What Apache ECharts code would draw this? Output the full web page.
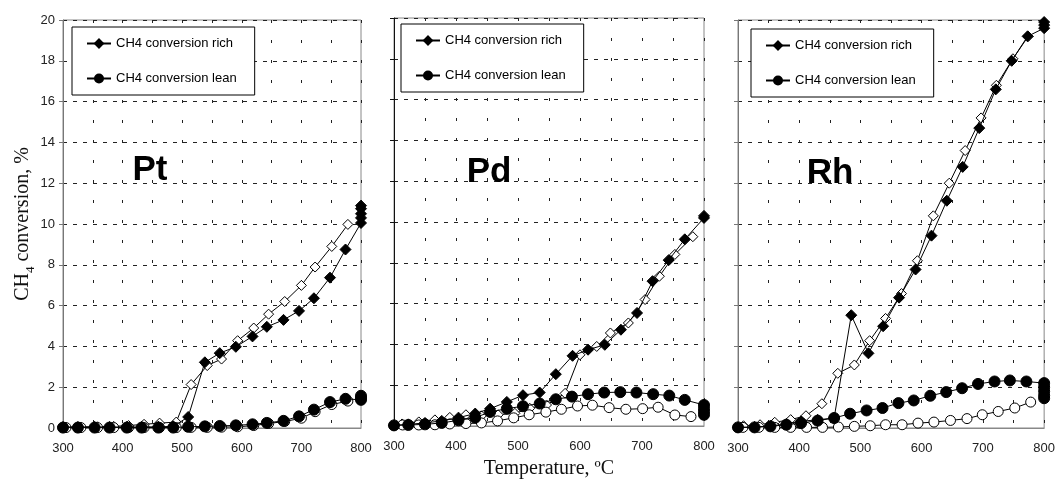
<!DOCTYPE html>
<html>
<head>
<meta charset="utf-8">
<script src="https://cdn.jsdelivr.net/npm/echarts@6/dist/echarts.min.js"></script>
<style>
html,body{margin:0;padding:0;background:#fff;}
#chart{width:1058px;height:490px;}
</style>
</head>
<body>
<div id="chart"></div>
<script>
// ---- data: [temperature °C, CH4 conversion %] ----
const panelNames = ['Pt', 'Pd', 'Rh'];
const xTicks = [300, 400, 500, 600, 700, 800];
const legendNames = ['CH4 conversion rich', 'CH4 conversion lean'];

// Pt
const ptRichHeat = [[300,0.05],[325,0.05],[353,0.05],[378,0.05],[407,0.05],[432,0.05],[460,0.06],[485,0.08],[510,0.54],[538,3.22],[563,3.67],[590,3.98],[618,4.49],[642,4.96],[670,5.3],[696,5.74],[721,6.36],[748,7.37],[774,8.75],[800,10.05],[800,10.3],[800,10.5],[800,10.75],[800,10.9]];
const ptRichCool = [[778,9.98],[751,8.9],[723,7.89],[700,6.99],[672,6.2],[645,5.58],[620,4.9],[593,4.28],[566,3.38],[542,3.06],[515,2.13],[490,0.29],[462,0.24],[436,0.18],[410,0.12],[385,0.08],[358,0.06],[330,0.05],[305,0.04]];
const ptLeanHeat = [[300,0.02],[325,0.02],[353,0.02],[378,0.02],[407,0.02],[432,0.02],[460,0.02],[485,0.02],[510,0.06],[538,0.08],[563,0.1],[590,0.13],[618,0.18],[642,0.25],[670,0.35],[696,0.57],[721,0.9],[748,1.27],[774,1.43],[800,1.38],[800,1.48],[800,1.58]];
const ptLeanCool = [[778,1.32],[751,1.15],[723,0.8],[700,0.48],[672,0.32],[645,0.22],[620,0.12],[593,0.06],[566,0.04],[542,0.03],[515,0.03],[490,0.02],[462,0.02],[436,0.02],[410,0.02],[385,0.02],[358,0.02],[330,0.02],[305,0.02]];

// Pd
const pdRichHeat = [[300,0.03],[323,0.08],[350,0.15],[377,0.25],[404,0.41],[431,0.61],[455,0.85],[482,1.18],[508,1.51],[535,1.64],[561,2.54],[588,3.44],[613,3.74],[640,3.98],[666,4.72],[692,5.54],[717,7.1],[743,8.13],[769,9.15],[800,10.2],[800,10.3]];
const pdRichCool = [[782,9.28],[753,8.41],[728,7.34],[705,6.2],[678,5.05],[649,4.56],[627,3.9],[600,3.49],[576,1.6],[546,1.03],[519,0.87],[495,0.62],[468,0.55],[441,0.5],[416,0.55],[390,0.42],[366,0.3],[340,0.2],[313,0.1]];
const pdLeanHeat = [[300,0.03],[323,0.05],[350,0.08],[377,0.15],[404,0.28],[431,0.41],[455,0.69],[482,0.85],[508,0.97],[535,1.1],[561,1.31],[587,1.44],[613,1.56],[639,1.64],[665,1.66],[691,1.64],[718,1.56],[744,1.49],[769,1.28],[800,1.03],[800,0.85],[800,0.7],[800,0.55]];
const pdLeanCool = [[779,0.46],[753,0.54],[726,0.92],[701,0.85],[674,0.82],[647,0.9],[620,1.02],[596,0.98],[570,0.82],[545,0.68],[518,0.55],[493,0.4],[467,0.25],[441,0.15],[416,0.12],[390,0.1],[366,0.06],[340,0.05],[314,0.05]];

// Rh
const rhRichHeat = [[300,0.03],[327,0.05],[353,0.1],[379,0.2],[403,0.33],[430,0.4],[457,0.49],[485,5.53],[513,3.66],[537,4.99],[563,6.39],[590,7.77],[616,9.43],[641,11.14],[667,12.8],[694,14.7],[721,16.6],[747,18.0],[773,19.2],[800,19.6],[800,19.75],[800,19.9]];
const rhRichCool = [[774,19.2],[749,18.1],[722,16.8],[697,15.2],[671,13.6],[645,12.0],[619,10.4],[593,8.2],[567,6.59],[541,5.37],[515,4.28],[490,3.09],[463,2.68],[437,1.19],[411,0.6],[386,0.41],[360,0.28],[336,0.16],[309,0.11]];
const rhLeanHeat = [[300,0.03],[327,0.03],[353,0.08],[379,0.16],[403,0.24],[430,0.36],[457,0.49],[483,0.7],[510,0.86],[536,0.98],[562,1.22],[587,1.35],[614,1.58],[640,1.76],[666,1.95],[692,2.16],[719,2.28],[744,2.33],[771,2.28],[800,2.2],[800,2.0],[800,1.8],[800,1.6],[800,1.46]];
const rhLeanCool = [[778,1.27],[752,0.98],[725,0.81],[699,0.65],[674,0.46],[647,0.37],[620,0.29],[594,0.24],[568,0.16],[541,0.16],[516,0.11],[490,0.08],[464,0.05],[438,0.03],[412,0.03],[386,0.03],[360,0.03],[334,0.03],[308,0.03]];

const panels = [
  {richHeat: ptRichHeat, richCool: ptRichCool, leanHeat: ptLeanHeat, leanCool: ptLeanCool},
  {richHeat: pdRichHeat, richCool: pdRichCool, leanHeat: pdLeanHeat, leanCool: pdLeanCool},
  {richHeat: rhRichHeat, richCool: rhRichCool, leanHeat: rhLeanHeat, leanCool: rhLeanCool}
];

// ---- layout ----
const grids = [
  {left: 63, top: 20, width: 298, height: 408},
  {left: 394, top: 18, width: 310, height: 408},
  {left: 738, top: 20, width: 308, height: 408}
];
const leftAxisColors = ['#777', '#111', '#777'];
const legendPos = [{left: 72, top: 27}, {left: 401, top: 24}, {left: 751, top: 29}];
const labelPos = [{x: 150, y: 170}, {x: 489, y: 172}, {x: 830, y: 173}];

const SANS = '"Liberation Sans", Arial, sans-serif';
const SERIF = '"Liberation Serif", "Times New Roman", serif';

const chart = echarts.init(document.getElementById('chart'), null, {renderer: 'canvas'});

const xAxes = [], yAxes = [], series = [], legends = [], graphics = [];
grids.forEach((g, i) => {
  g.show = true; g.borderColor = '#888'; g.borderWidth = 1; g.backgroundColor = 'transparent';
  xAxes.push({
    type: 'value', gridIndex: i, min: xTicks[0], max: xTicks[xTicks.length - 1], interval: 100,
    axisLine: {show: true, onZero: false, lineStyle: {color: '#888', width: 1}},
    axisTick: {show: false},
    minorTick: {show: false, splitNumber: 2},
    splitLine: {show: true, lineStyle: {color: '#222', width: 1, type: [3, 17]}},
    minorSplitLine: {show: true, lineStyle: {color: '#222', width: 1, type: [3, 17]}},
    axisLabel: {show: true, fontSize: 13, color: '#222', fontFamily: SANS, margin: 14},
    name: i === 1 ? 'Temperature, ºC' : '',
    nameLocation: 'middle', nameGap: 33,
    nameTextStyle: {fontFamily: SERIF, fontSize: 20, color: '#111'}
  });
  yAxes.push({
    type: 'value', gridIndex: i, min: 0, max: 20, interval: 2,
    axisLine: {show: true, lineStyle: {color: leftAxisColors[i], width: 1}},
    axisTick: {show: true, length: 4, inside: false, lineStyle: {color: leftAxisColors[i]}},
    splitLine: {show: true, lineStyle: {color: '#222', width: 1, type: [4, 6]}},
    axisLabel: {show: i === 0, fontSize: 13, color: '#222', fontFamily: SANS, margin: 8},
    name: i === 0 ? '{n|CH}{s|4}{n| conversion, %}' : '',
    nameLocation: 'middle', nameGap: 30, nameRotate: 90,
    nameTextStyle: {
      rich: {
        n: {fontFamily: SERIF, fontSize: 20, color: '#111', verticalAlign: 'bottom', lineHeight: 24},
        s: {fontFamily: SERIF, fontSize: 13, color: '#111', verticalAlign: 'bottom', lineHeight: 24, padding: [0, 0, -4, 0]}
      }
    }
  });
  const p = panels[i];
  const mk = (name, data, symbol, filled, size, z) => ({
    type: 'line', name, data, xAxisIndex: i, yAxisIndex: i,
    symbol, symbolSize: size, showSymbol: true, showAllSymbol: true,
    lineStyle: {color: '#000', width: 1},
    itemStyle: {color: filled ? '#000' : '#fff', borderColor: '#000', borderWidth: 1},
    emphasis: {disabled: true}, animation: false, z
  });
  series.push(mk('rich cooling ' + i, p.richCool, 'diamond', false, 10, 2));
  series.push(mk('lean cooling ' + i, p.leanCool, 'circle', false, 10, 2));
  series.push(mk(legendNames[1], p.leanHeat, 'circle', true, 11, 3));
  series.push(mk(legendNames[0], p.richHeat, 'diamond', true, 11, 4));
  legends.push({
    left: legendPos[i].left, top: legendPos[i].top, orient: 'vertical',
    itemGap: 22, itemWidth: 24, itemHeight: 10,
    backgroundColor: '#fff', borderColor: '#000', borderWidth: 1,
    padding: [10, 18, 10, 14], selectedMode: false,
    textStyle: {fontFamily: SANS, fontSize: 13, color: '#000'},
    data: legendNames.slice(), z: 10
  });
  graphics.push({
    type: 'text', x: labelPos[i].x, y: labelPos[i].y, z: 20,
    style: {text: panelNames[i], font: 'bold 35px "Liberation Sans", Arial, sans-serif', fill: '#000', align: 'center', verticalAlign: 'middle'}
  });
});

chart.setOption({
  animation: false,
  backgroundColor: '#fff',
  grid: grids,
  xAxis: xAxes,
  yAxis: yAxes,
  legend: legends,
  series: series,
  graphic: graphics
});
</script>
</body>
</html>
